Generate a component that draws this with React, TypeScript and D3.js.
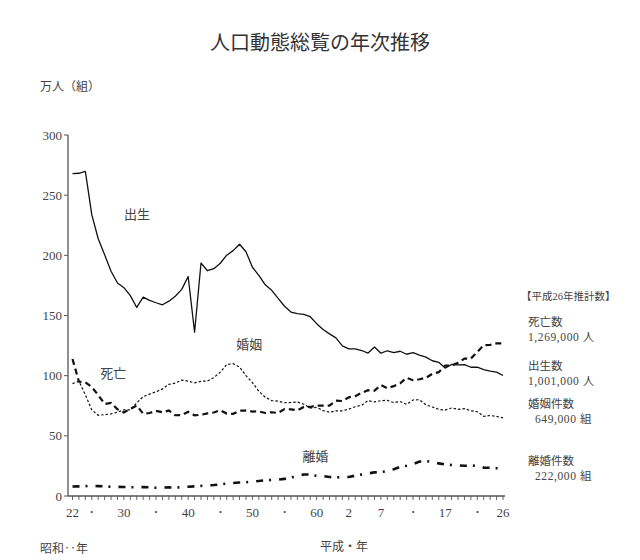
import React, { useEffect } from "react";
import * as d3 from "d3";

const years: number[] = d3.range(1947, 2015);

const births: number[] = [
  267.9, 268.2, 269.7, 233.8, 213.8, 200.5, 186.8, 177.0, 173.1, 166.5,
  156.7, 165.3, 162.6, 160.6, 158.9, 161.9, 166.0, 171.7, 182.4, 136.1,
  193.6, 187.2, 188.9, 193.4, 200.1, 203.9, 209.2, 203.0, 190.1, 183.3,
  175.5, 170.9, 164.3, 157.7, 152.9, 151.5, 150.9, 149.0, 143.2, 138.3,
  134.7, 131.4, 124.7, 122.2, 122.3, 120.9, 118.8, 123.8, 118.7, 120.7,
  119.2, 120.3, 117.8, 119.1, 117.1, 115.4, 112.4, 111.1, 106.3, 109.3,
  109.0, 109.1, 107.0, 107.1, 105.1, 103.7, 103.0, 100.1,
];

const deaths: number[] = [
  113.8, 95.1, 94.5, 90.5, 83.9, 76.5, 77.3, 72.1, 69.4, 72.4,
  75.2, 68.4, 69.0, 70.7, 69.6, 71.0, 67.1, 67.3, 70.0, 67.0,
  67.5, 68.6, 69.4, 71.3, 68.5, 68.3, 70.9, 71.0, 70.2, 70.3,
  69.0, 69.6, 69.0, 72.3, 72.0, 71.2, 74.0, 74.0, 75.2, 75.1,
  75.1, 79.3, 78.9, 82.0, 83.0, 85.7, 87.9, 87.6, 92.2, 89.6,
  91.3, 93.6, 98.2, 96.2, 97.0, 98.2, 101.5, 102.9, 108.4, 108.4,
  110.8, 114.2, 114.2, 119.7, 125.3, 125.6, 126.8, 126.9,
];

const marriages: number[] = [
  93.4, 95.3, 84.2, 71.5, 67.1, 67.6, 68.2, 69.7, 71.5, 71.5,
  77.4, 82.6, 84.7, 86.6, 89.0, 92.8, 93.8, 96.3, 95.5, 94.0,
  95.3, 95.6, 98.4, 102.9, 109.2, 110.0, 107.2, 100.0, 94.2, 87.1,
  82.1, 79.3, 78.8, 77.5, 77.7, 78.1, 76.3, 73.0, 73.6, 71.0,
  69.6, 70.8, 70.8, 72.2, 74.2, 75.4, 79.3, 78.2, 79.2, 79.5,
  77.6, 78.5, 76.2, 79.8, 80.0, 75.7, 74.0, 72.0, 71.4, 73.1,
  72.0, 72.6, 70.8, 70.0, 66.2, 66.9, 66.1, 64.9,
];

const divorces: number[] = [
  7.9, 8.0, 8.2, 8.4, 8.2, 8.0, 7.6, 7.6, 7.5, 7.3,
  7.2, 7.4, 7.2, 6.9, 7.0, 7.2, 7.0, 7.3, 7.7, 8.0,
  8.4, 8.8, 9.1, 9.6, 10.4, 10.8, 11.2, 11.4, 11.9, 12.5,
  13.0, 13.3, 13.6, 14.2, 15.4, 16.4, 17.9, 17.9, 16.7, 16.6,
  15.8, 15.4, 15.8, 15.8, 16.9, 17.9, 18.8, 19.6, 19.9, 20.7,
  22.3, 24.3, 25.1, 26.4, 28.6, 29.0, 28.4, 27.1, 26.2, 25.7,
  25.5, 25.1, 25.3, 25.1, 23.6, 23.5, 23.1, 22.2,
];

const yTicks: number[] = [0, 50, 100, 150, 200, 250, 300];

const xTickYears: number[] = [1947, 1950, 1955, 1960, 1965, 1970, 1975, 1980, 1985, 1990, 1995, 2000, 2005, 2010, 2014];
const xTickLabels: string[] = ["22", "•", "30", "•", "40", "•", "50", "•", "60", "2", "7", "•", "17", "•", "26"];

const seriesLabels: { text: string; year: number; value: number }[] = [
  { text: "出生", year: 1955, value: 230 },
  { text: "婚姻", year: 1972.5, value: 122 },
  { text: "死亡", year: 1951.3, value: 98 },
  { text: "離婚", year: 1982.8, value: 29 },
];

const legendTitle = "【平成26年推計数】";
const legendItems: { name: string; value: string }[] = [
  { name: "死亡数", value: "1,269,000 人" },
  { name: "出生数", value: "1,001,000 人" },
  { name: "婚姻件数", value: "  649,000 組" },
  { name: "離婚件数", value: "  222,000 組" },
];

const FONT = "'Liberation Serif', 'Noto Sans CJK JP', serif";
const TXT = "#444";

export default function App() {
  useEffect(() => {
    document.body.style.margin = "0";
  }, []);

  const x = d3.scaleLinear().domain([1947, 2014]).range([72.5, 503]);
  const y = d3.scaleLinear().domain([0, 300]).range([496, 135]);
  const axisX0 = 68;

  const mk = (vals: number[]) =>
    d3
      .line<number>()
      .x((_, i) => x(years[i]))
      .y((v) => y(v))(vals) || "";

  const legendY = [326, 370, 408, 465];

  return (
    <svg width={640} height={560} style={{ display: "block", background: "#fff" }} fontFamily={FONT}>
      <text x={320} y={50} textAnchor="middle" fontSize={20} fill="#333">
        人口動態総覧の年次推移
      </text>
      <text x={40} y={91} fontSize={12} fill={TXT}>
        万人（組）
      </text>

      {/* y axis */}
      <line x1={axisX0} x2={axisX0} y1={y(300)} y2={y(0)} stroke="#555" strokeWidth={1.3} />
      {yTicks.map((t) => (
        <g key={t}>
          <line x1={axisX0 - 4} x2={axisX0} y1={y(t)} y2={y(t)} stroke="#555" strokeWidth={1} />
          <text x={axisX0 - 6} y={y(t) + 4.5} textAnchor="end" fontSize={13} fill={TXT}>
            {t}
          </text>
        </g>
      ))}

      {/* x axis */}
      <line x1={axisX0} x2={505} y1={y(0)} y2={y(0)} stroke="#555" strokeWidth={1.3} />
      {years.map((yr) => (
        <line key={yr} x1={x(yr)} x2={x(yr)} y1={y(0)} y2={y(0) + 4} stroke="#555" strokeWidth={0.9} />
      ))}
      {xTickYears.map((yr, i) => (
        <text
          key={yr}
          x={x(yr)}
          y={y(0) + 21}
          textAnchor="middle"
          fontSize={xTickLabels[i] === "•" ? 8 : 13}
          dy={xTickLabels[i] === "•" ? -2 : 0}
          fill={TXT}
        >
          {xTickLabels[i]}
        </text>
      ))}
      <text x={40} y={553} fontSize={12} fill={TXT}>
        昭和‥年
      </text>
      <text x={320} y={551} fontSize={12} fill={TXT}>
        平成・年
      </text>

      {/* series */}
      <path d={mk(births)} fill="none" stroke="#111" strokeWidth={1.3} strokeLinejoin="round" />
      <path d={mk(deaths)} fill="none" stroke="#111" strokeWidth={2.2} strokeDasharray="6 4" />
      <path d={mk(marriages)} fill="none" stroke="#111" strokeWidth={1.2} strokeDasharray="2.5 2" />
      <path d={mk(divorces)} fill="none" stroke="#111" strokeWidth={2.6} strokeDasharray="7 6 2 8" />

      {seriesLabels.map((s) => (
        <text key={s.text} x={x(s.year)} y={y(s.value)} fontSize={13} fill={TXT}>
          {s.text}
        </text>
      ))}

      {/* legend */}
      <text x={521} y={300} fontSize={10.5} fill={TXT}>
        {legendTitle}
      </text>
      {legendItems.map((it, i) => (
        <g key={it.name}>
          <text x={528} y={legendY[i]} fontSize={11.5} fill={TXT}>
            {it.name}
          </text>
          <text
            x={528}
            y={legendY[i] + 15}
            fontSize={11.5}
            letterSpacing={0.6}
            fill={TXT}
            style={{ whiteSpace: "pre" }}
          >
            {it.value}
          </text>
        </g>
      ))}
    </svg>
  );
}
